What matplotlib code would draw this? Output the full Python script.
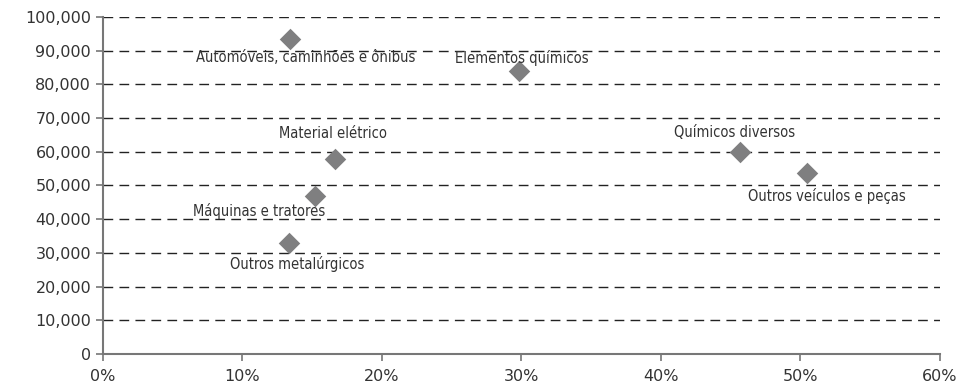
import matplotlib.pyplot as plt
from matplotlib.ticker import FuncFormatter

sectors = [
    "Automóveis, caminhões e ônibus",
    "Elementos químicos",
    "Material elétrico",
    "Máquinas e tratores",
    "Outros metalúrgicos",
    "Químicos diversos",
    "Outros veículos e peças",
]
share = [0.134, 0.298, 0.166, 0.152, 0.133, 0.457, 0.505]
value = [93500, 84000, 58000, 47000, 33000, 60000, 53600]
# label offsets in pixels (dx, dy)
offsets = [(16, -19), (3, 13), (-2, 25), (-56, -15), (9, -21), (-6, 19), (19, -23)]

fig = plt.figure(figsize=(9.57, 3.86), dpi=100)
ax = fig.add_axes([0.1076, 0.0829, 0.8746, 0.8731])

ax.scatter(share, value, marker="D", s=120, color="#7f7f80", zorder=3, linewidths=0)

for name, x, y, (dx, dy) in zip(sectors, share, value, offsets):
    ax.annotate(name, (x, y), xytext=(dx, dy), textcoords="offset pixels",
                ha="center", va="center", fontsize=10.5, color="#333333",
                family=["DejaVu Sans"], fontstretch="condensed")

ax.set_xlim(0, 0.6)
ax.set_ylim(0, 100000)
ax.set_xticks([i / 10 for i in range(7)])
ax.set_yticks(range(0, 100001, 10000))
ax.xaxis.set_major_formatter(FuncFormatter(lambda v, p: f"{v * 100:.0f}%"))
ax.yaxis.set_major_formatter(FuncFormatter(lambda v, p: f"{v:,.0f}"))

for yv in range(10000, 100001, 10000):
    ax.axhline(yv, color="#222222", lw=1.0, ls=(0, (7, 4.5)), zorder=1)

for side in ["top", "right"]:
    ax.spines[side].set_visible(False)
for side in ["left", "bottom"]:
    ax.spines[side].set_color("#777777")
    ax.spines[side].set_linewidth(1.5)
ax.tick_params(direction="out", length=5, width=1.2, color="#777777",
               labelsize=11.5, labelcolor="#333333")
ax.tick_params(axis="x", pad=6)

fig.savefig("out.png", dpi=100)
